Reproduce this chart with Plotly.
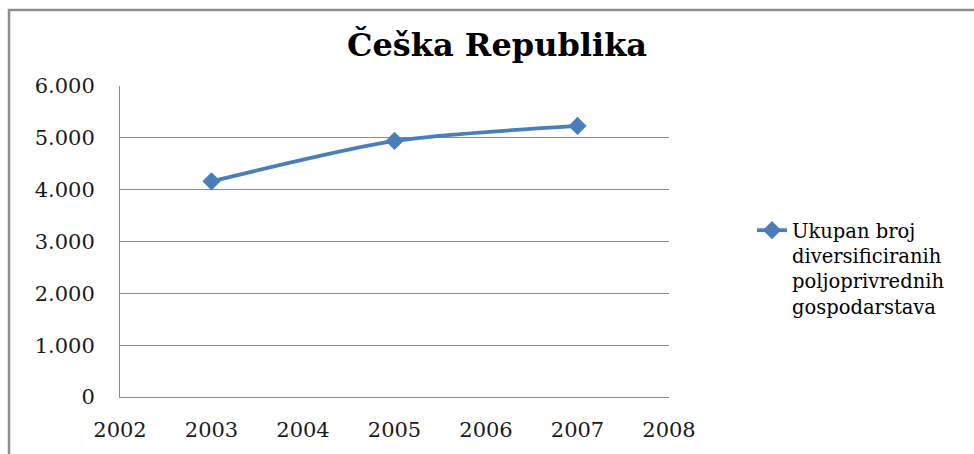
import plotly.graph_objects as go

years = [2003, 2005, 2007]
values = [4160, 4940, 5230]
series_name = "Ukupan broj<br>diversificiranih<br>poljoprivrednih<br>gospodarstava"
title_text = "Češka Republika"

L, R, T, B = 120, 305, 86, 57
W, H = 974, 454
pw, ph = W - L - R, H - T - B

def px_x(x):
    return (x - L) / pw

def px_y(y):
    return (H - B - y) / ph

fig = go.Figure()
fig.add_trace(go.Scatter(
    x=years, y=values, name=series_name, mode="lines+markers",
    line=dict(color="#4A7EBB", width=3.8, shape="spline", smoothing=0.7),
    marker=dict(symbol="diamond", size=14, color="#4A7EBB"),
))

font = "DejaVu Serif, Liberation Serif, serif"
fig.update_layout(
    width=W, height=H,
    margin=dict(l=L, r=R, t=T, b=B, autoexpand=False),
    paper_bgcolor="white", plot_bgcolor="white",
    separators=",.",
    font=dict(family=font, size=21, color="#1a1a1a"),
    title=dict(text="<b>" + title_text + "</b>", x=497 / W, xref="container",
               y=1 - 45 / H, yref="container", xanchor="center", yanchor="middle",
               font=dict(family=font, size=32, color="black")),
    showlegend=True,
    legend=dict(x=px_x(752), xanchor="left", y=px_y(211), yanchor="top",
                valign="top", font=dict(family=font, size=19.5, color="black"),
                bgcolor="rgba(0,0,0,0)", itemwidth=30),
    xaxis=dict(range=[2002, 2008], dtick=1, tick0=2002, showgrid=False,
               showline=True, linecolor="#8a8a8a", linewidth=1, ticks="",
               ticklabelstandoff=14, zeroline=False, fixedrange=True),
    yaxis=dict(range=[0, 6000], dtick=1000, tickformat=",d", showgrid=True,
               gridcolor="#8a8a8a", gridwidth=1, showline=True, linecolor="#8a8a8a",
               linewidth=1, ticks="", ticklabelstandoff=20, zeroline=False, fixedrange=True),
    shapes=[dict(type="rect", xref="paper", yref="paper",
                 x0=px_x(9), x1=px_x(1000), y0=px_y(470), y1=px_y(10),
                 line=dict(color="#8c8c8c", width=2.5), layer="below")],
)

fig.write_html("out.html", config={"displayModeBar": False},
               post_script="document.body.style.margin='0px';document.body.style.overflow='hidden';")
